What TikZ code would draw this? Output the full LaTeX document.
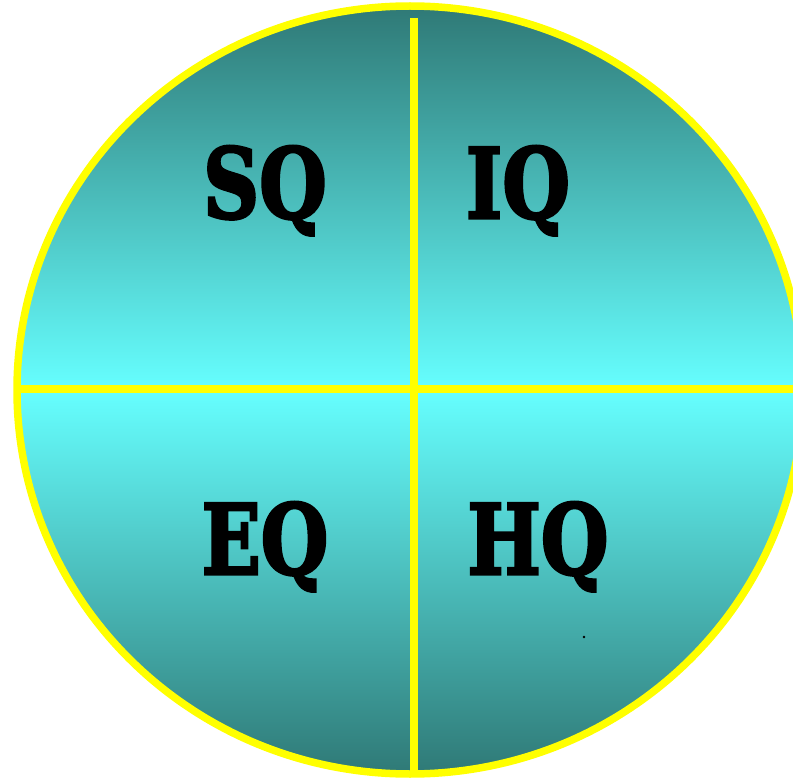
\documentclass[tikz,border=0pt]{standalone}
\usepackage{fontspec}
\newfontfamily\quadfont{DejaVu Serif}
\usepackage{tikz}
\usetikzlibrary{positioning,calc}
\definecolor{DeepTeal}{RGB}{47,121,118}
\definecolor{BrightCyan}{RGB}{102,255,255}
\definecolor{RimYellow}{RGB}{255,255,0}
\newcommand\heavy[1]{\special{pdf:literal 2 Tr 3 w}#1\special{pdf:literal 0 Tr 1 w}}

\begin{document}
\begin{tikzpicture}[x=1pt,y=-1pt,
  rim/.style={draw=RimYellow,line width=7.5pt},
  quad/.style={font=\quadfont\bfseries\fontsize{97}{97}\selectfont,
    text=black,inner sep=0pt,anchor=base,xscale=0.8}]
\useasboundingbox (0,0) rectangle (793,778);
% disc with vertical shading
\begin{scope}
  \clip (410,390) ellipse [x radius=393, y radius=384];
  \shade[top color=DeepTeal,bottom color=DeepTeal,middle color=BrightCyan]
    (0,6) rectangle (820,774);
\end{scope}
% cross
\draw[rim,line width=8pt] (414,18) -- (414,775);
\draw[rim] (17,389) -- (805,389);
% rim
\draw[rim] (410,390) ellipse [x radius=393, y radius=384];
% quadrant labels
\foreach \name/\txt/\x/\y in {sq/SQ/265/218, iq/IQ/518/218,
                              eq/EQ/265/574, hq/HQ/538/574} {
  \node[quad] (\name) at (\x,\y) {\heavy{\txt}};
}
\fill (584,637) circle [radius=1.3];
\end{tikzpicture}
\end{document}
